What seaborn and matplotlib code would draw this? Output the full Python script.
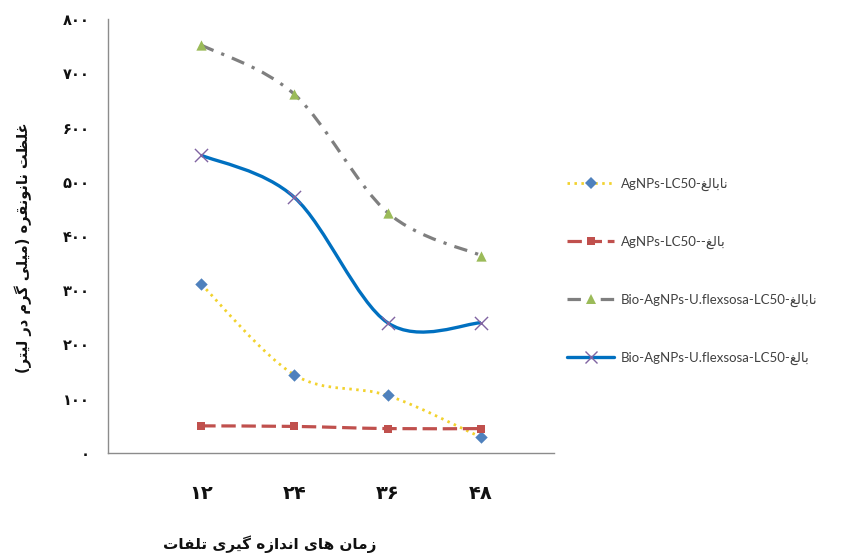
import numpy as np
import matplotlib
matplotlib.use('Agg')
import matplotlib.pyplot as plt
from matplotlib.path import Path
from matplotlib.patches import PathPatch
from matplotlib.lines import Line2D
import seaborn as sns

# data
hours = [12, 24, 36, 48]
hour_labels = ['۱۲', '۲۴', '۳۶', '۴۸']
agnps_immature = [311, 144, 106, 29]
agnps_adult = [50, 49, 45, 45]
bio_immature = [752, 661, 443, 364]
bio_adult = [549, 471, 240, 240]
y_ticks = [0, 100, 200, 300, 400, 500, 600, 700, 800]
y_tick_labels = ['۰', '۱۰۰', '۲۰۰', '۳۰۰', '۴۰۰', '۵۰۰', '۶۰۰', '۷۰۰', '۸۰۰']

x_title = 'زمان های اندازه گیری تلفات'
y_title = 'غلظت نانونقره (میلی گرم در لیتر)'
word_immature = 'نابالغ'
word_adult = 'بالغ'

# small arabic shaper (no arabic_reshaper available): iso, fin, ini, med
FORMS = {
    'ب': ('\uFE8F', '\uFE90', '\uFE91', '\uFE92'),
    'ت': ('\uFE95', '\uFE96', '\uFE97', '\uFE98'),
    'ظ': ('\uFEC5', '\uFEC6', '\uFEC7', '\uFEC8'),
    'غ': ('\uFECD', '\uFECE', '\uFECF', '\uFED0'),
    'ف': ('\uFED1', '\uFED2', '\uFED3', '\uFED4'),
    'ق': ('\uFED5', '\uFED6', '\uFED7', '\uFED8'),
    'ل': ('\uFEDD', '\uFEDE', '\uFEDF', '\uFEE0'),
    'م': ('\uFEE1', '\uFEE2', '\uFEE3', '\uFEE4'),
    'ن': ('\uFEE5', '\uFEE6', '\uFEE7', '\uFEE8'),
    'ه': ('\uFEE9', '\uFEEA', '\uFEEB', '\uFEEC'),
    'ی': ('\uFBFC', '\uFBFD', '\uFBFE', '\uFBFF'),
    'گ': ('\uFB92', '\uFB93', '\uFB94', '\uFB95'),
    'ا': ('\uFE8D', '\uFE8E'),
    'د': ('\uFEA9', '\uFEAA'),
    'ر': ('\uFEAD', '\uFEAE'),
    'ز': ('\uFEAF', '\uFEB0'),
    'و': ('\uFEED', '\uFEEE'),
}
MIRROR = {'(': ')', ')': '('}


def rtl(text):
    out = []
    for i, ch in enumerate(text):
        if ch not in FORMS:
            out.append(MIRROR.get(ch, ch))
            continue
        prev = text[i - 1] if i > 0 else ''
        nxt = text[i + 1] if i + 1 < len(text) else ''
        join_prev = prev in FORMS and len(FORMS[prev]) == 4
        join_next = len(FORMS[ch]) == 4 and nxt in FORMS
        f = FORMS[ch]
        if join_prev and join_next:
            out.append(f[3])
        elif join_prev:
            out.append(f[1])
        elif join_next:
            out.append(f[2])
        else:
            out.append(f[0])
    return ''.join(out[::-1])


def smooth(xs, ys):
    # excel-like smoothed line (catmull-rom as cubic bezier)
    p = np.column_stack([xs, ys]).astype(float)
    n = len(p)
    verts, codes = [p[0]], [Path.MOVETO]
    for i in range(n - 1):
        p0, p1, p2, p3 = p[max(i - 1, 0)], p[i], p[i + 1], p[min(i + 2, n - 1)]
        verts += [p1 + (p2 - p0) / 6, p2 - (p3 - p1) / 6, p2]
        codes += [Path.CURVE4] * 3
    return Path(verts, codes)


sns.set_style('white')
plt.rcParams['font.family'] = ['DejaVu Sans']

fig = plt.figure(figsize=(8.61, 5.59), dpi=100)
ax = fig.add_axes([108 / 861, 106 / 559, 446 / 861, 434 / 559])

series = [
    (agnps_immature, '#F2D22E', (0, (0.9, 1.6)), 2.0, 'D', '#4F81BD', 40,
     'AgNPs-LC50-' + rtl(word_immature)),
    (agnps_adult, '#C0504D', (0, (4.5, 1.8)), 2.3, 's', '#C0504D', 40,
     'AgNPs-LC50--' + rtl(word_adult)),
    (bio_immature, '#7F7F7F', (0, (4.2, 2.6, 1.0, 2.6)), 2.3, '^', '#9BBB59', 55,
     'Bio-AgNPs-U.flexsosa-LC50-' + rtl(word_immature)),
    (bio_adult, '#0070C0', '-', 2.4, 'x', '#8064A2', 90,
     'Bio-AgNPs-U.flexsosa-LC50-' + rtl(word_adult)),
]

handles = []
for vals, lc, ls, lw, mk, mc, ms, lab in series:
    ax.add_patch(PathPatch(smooth(hours, vals), fill=False, edgecolor=lc,
                           linestyle=ls, linewidth=lw, zorder=2))
    if mk == 'x':
        sns.scatterplot(x=hours, y=vals, marker=mk, color=mc, s=ms,
                        linewidth=1.0, ax=ax, zorder=3)
    else:
        sns.scatterplot(x=hours, y=vals, marker=mk, color=mc, s=ms,
                        edgecolor=mc, linewidth=0, ax=ax, zorder=3)
    handles.append(Line2D([], [], color=lc, linestyle=ls, linewidth=lw,
                          marker=mk, markersize=np.sqrt(ms) * 0.9,
                          markerfacecolor=mc, markeredgecolor=mc,
                          markeredgewidth=1.0 if mk == 'x' else 0, label=lab))

ax.set_xlim(0, 57.4)
ax.set_ylim(0, 800)
ax.set_xticks([0] + hours + [57.4])
ax.set_xticklabels([''] + hour_labels + [''], fontsize=14, fontweight='bold',
                   color='#111111')
ax.set_yticks(y_ticks)
ax.set_yticklabels(y_tick_labels, fontsize=10.5, fontweight='bold', color='#111111')
ax.tick_params(axis='x', length=5, width=1, color='#8C8C8C', pad=17, direction='out')
ax.tick_params(axis='y', length=5, width=1, color='#8C8C8C', pad=8, direction='out')
for s in ['top', 'right']:
    ax.spines[s].set_visible(False)
for s in ['left', 'bottom']:
    ax.spines[s].set_color('#8C8C8C')
    ax.spines[s].set_linewidth(1)

ax.set_xlabel(rtl(x_title), fontsize=11, fontweight='bold', color='#111111')
ax.xaxis.set_label_coords((270 - 108) / 446, -(535 - 453) / 434)
ax.set_ylabel(rtl(y_title), fontsize=10.5, fontweight='bold', color='#111111')
ax.yaxis.set_label_coords(-(108 - 32) / 446, (453 - 248) / 434)

fig.legend(handles=handles, loc='upper left', bbox_to_anchor=(555 / 861, 1 - 166 / 559),
           frameon=False, handlelength=3.6, handletextpad=0.5,
           labelspacing=3.4, prop={'family': ['Lato', 'DejaVu Sans'], 'size': 9.5},
           labelcolor='#404040')

fig.savefig('out.png', dpi=100)
